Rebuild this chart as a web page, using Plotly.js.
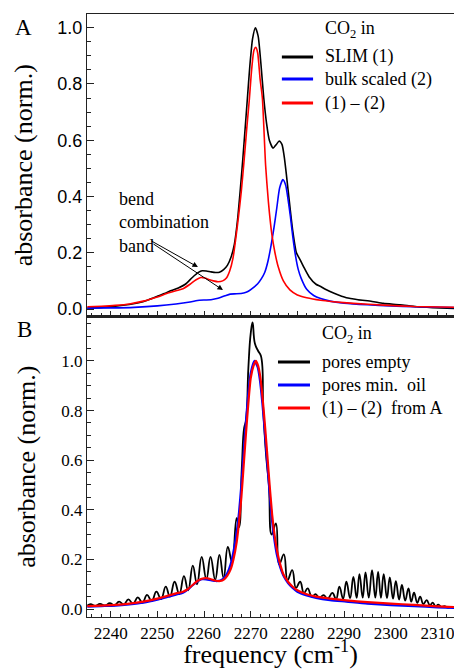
<!DOCTYPE html>
<html><head><meta charset="utf-8">
<script src="https://cdn.plot.ly/plotly-3.0.1.min.js"></script>
<style>body{margin:0;background:#fff}#plot{width:454px;height:669px}</style>
</head><body><div id="plot"></div>
<script>
// ---------- Panel A ----------
const xA_slim = [2235,2238,2241,2244,2246,2248,2250,2251.5,2253,2254.5,2256,2257.5,2258.8,2259.6,2260.5,2261.5,2262.5,2263.3,2264.2,2265,2265.8,2266.5,2267.2,2267.8,2268.3,2268.8,2269.3,2269.8,2270.4,2271.0,2271.6,2272.2,2272.8,2273.4,2274.0,2274.8,2275.5,2276.1,2276.7,2277.2,2277.7,2278.3,2279.0,2279.8,2280.6,2281.5,2282.5,2284,2285,2286,2288,2290.5,2293,2296,2298.4,2302,2305.6,2309,2314];
const yA_slim = [0.003,0.006,0.01,0.016,0.022,0.032,0.045,0.055,0.066,0.075,0.088,0.112,0.13,0.136,0.135,0.132,0.13,0.131,0.14,0.155,0.185,0.23,0.32,0.43,0.53,0.64,0.75,0.86,0.96,1.0,0.97,0.87,0.75,0.66,0.6,0.572,0.585,0.597,0.585,0.54,0.47,0.38,0.28,0.2,0.175,0.145,0.115,0.088,0.08,0.07,0.055,0.04,0.033,0.027,0.02,0.015,0.008,0.005,0.002];

const xA_bulk = [2235,2240,2245,2250,2254,2257,2259,2260.3,2261.5,2263,2264.5,2265.6,2267,2268.5,2269.5,2270.5,2271.5,2272.3,2273,2273.7,2274.3,2275,2275.6,2276.2,2276.9,2277.5,2278,2278.5,2279,2279.6,2280.2,2280.8,2282,2283.5,2285,2287,2290,2295,2300,2305,2314];
const yA_bulk = [0.003,0.004,0.006,0.011,0.018,0.025,0.031,0.032,0.033,0.038,0.047,0.053,0.054,0.057,0.063,0.075,0.09,0.108,0.13,0.17,0.22,0.29,0.36,0.43,0.46,0.44,0.39,0.33,0.26,0.19,0.14,0.11,0.07,0.048,0.037,0.028,0.021,0.015,0.011,0.008,0.005];

const xA_diff = [2235,2238,2241,2244,2247,2250,2252,2254,2255.5,2257,2258.3,2259.3,2260.2,2261,2262,2263,2264,2264.8,2265.5,2266.2,2266.8,2267.4,2268,2268.6,2269.2,2269.7,2270.2,2270.7,2271.1,2271.5,2272.0,2272.5,2273.2,2273.8,2274.5,2275.2,2275.9,2277,2278.4,2280,2282,2285,2287.7,2292,2298.4,2305,2314];
const yA_diff = [0.008,0.01,0.013,0.018,0.028,0.043,0.055,0.065,0.072,0.088,0.104,0.112,0.11,0.105,0.1,0.097,0.1,0.11,0.135,0.18,0.25,0.33,0.42,0.53,0.65,0.743,0.85,0.92,0.93,0.91,0.82,0.75,0.51,0.38,0.27,0.2,0.15,0.1,0.068,0.05,0.04,0.031,0.026,0.02,0.014,0.009,0.006];

// ---------- Panel B ----------
const xB_empty = [2235.0,2235.7,2236.7,2237.7,2238.8,2239.8,2240.8,2241.8,2242.8,2243.8,2244.8,2245.8,2246.8,2247.8,2248.8,2249.8,2250.8,2251.8,2252.7,2253.7,2254.7,2255.7,2256.6,2257.6,2258.5,2259.5,2260.5,2261.4,2262.4,2263.3,2264.2,2265.1,2266.0,2267.0,2267.5,2268.1,2268.6,2269.0,2269.5,2270.0,2270.4,2270.9,2271.6,2272.2,2272.7,2273.3,2273.9,2274.5,2275.4,2276.1,2277.1,2277.9,2278.9,2279.7,2280.6,2281.4,2282.2,2283.1,2283.9,2284.7,2285.6,2286.5,2287.5,2288.3,2289.0,2289.8,2290.5,2291.3,2292.0,2292.7,2293.3,2294.0,2294.6,2295.3,2296.0,2296.7,2297.3,2297.9,2298.5,2299.2,2299.8,2300.5,2301.1,2301.8,2302.4,2303.1,2303.8,2304.4,2305.0,2305.7,2306.3,2307.0,2307.7,2308.4,2309.0,2309.6,2310.2,2310.9,2311.5,2312.2,2313.0,2314.0];
const yB_empty = [0.014,0.02,0.013,0.021,0.014,0.024,0.015,0.03,0.018,0.039,0.021,0.047,0.026,0.057,0.032,0.07,0.04,0.09,0.05,0.11,0.06,0.133,0.075,0.175,0.1,0.21,0.12,0.21,0.118,0.218,0.125,0.251,0.19,0.366,0.33,0.57,0.73,0.76,0.97,1.11,1.155,1.07,1.04,1.02,0.8,0.62,0.5,0.3,0.345,0.18,0.22,0.117,0.157,0.085,0.11,0.065,0.083,0.05,0.06,0.045,0.056,0.042,0.065,0.04,0.09,0.042,0.11,0.044,0.13,0.045,0.141,0.046,0.148,0.046,0.157,0.046,0.15,0.045,0.141,0.044,0.128,0.042,0.113,0.038,0.097,0.034,0.083,0.03,0.066,0.025,0.05,0.02,0.036,0.015,0.026,0.011,0.018,0.008,0.012,0.006,0.008,0.005];

const xB_oil = [2235,2238,2241,2244,2247,2250,2252,2254,2255.5,2256.5,2257.5,2258.5,2259.5,2260.5,2261.5,2262.5,2263.5,2264.3,2265,2265.7,2266.3,2267,2267.5,2268,2268.5,2269,2269.5,2270,2270.8,2271.5,2272,2272.5,2273,2273.5,2274,2274.5,2275,2275.6,2276.3,2277,2278,2279,2280,2282,2284,2287,2290.5,2295,2300,2305,2310,2314];
const yB_oil = [0.01,0.012,0.014,0.019,0.026,0.038,0.048,0.058,0.066,0.078,0.095,0.11,0.12,0.12,0.116,0.113,0.115,0.125,0.145,0.18,0.23,0.31,0.39,0.5,0.63,0.76,0.87,0.95,1.0,0.975,0.92,0.83,0.72,0.6,0.48,0.37,0.29,0.22,0.17,0.135,0.105,0.085,0.07,0.055,0.045,0.036,0.03,0.022,0.016,0.012,0.007,0.004];

const xB_diffA = [2235,2238,2241,2244,2247,2250,2252,2254,2255.5,2256.5,2257.5,2258.5,2259.5,2260.5,2261.5,2262.5,2263.5,2264.3,2265,2265.7,2266.3,2267,2267.5,2268,2268.5,2269,2269.5,2270,2270.6,2271.1,2271.6,2272.1,2272.6,2273.1,2273.6,2274.1,2274.6,2275.1,2275.7,2276.4,2277,2278,2279,2280,2282,2284,2287,2290.5,2295,2300,2305,2310,2314];
const yB_diffA = [0.012,0.014,0.017,0.022,0.03,0.042,0.052,0.063,0.07,0.08,0.096,0.112,0.122,0.125,0.12,0.114,0.113,0.12,0.135,0.16,0.2,0.27,0.35,0.45,0.58,0.71,0.83,0.93,0.98,1.0,0.98,0.93,0.84,0.73,0.61,0.49,0.38,0.3,0.23,0.175,0.14,0.11,0.09,0.076,0.06,0.05,0.042,0.035,0.028,0.022,0.017,0.011,0.008];

// ---------- labels ----------
const legendA = ["SLIM (1)", "bulk scaled (2)", "(1) \u2013 (2)"];
const legendB = ["pores empty", "pores min.  oil", "(1) \u2013 (2)  from A"];
const colors = ["#000000", "#0000ff", "#ff0000"];
const xTickVals = [2240,2250,2260,2270,2280,2290,2300,2310];
const yTickVals = [0,0.2,0.4,0.6,0.8,1.0];

const serif = "Liberation Serif";
const sans = "Liberation Sans";

function tr(x, y, c, ya, w, name, sm) {
  return {x: x, y: y, type: 'scatter', mode: 'lines', name: name,
    line: {color: c, width: w, shape: 'spline', smoothing: sm},
    xaxis: 'x', yaxis: ya, showlegend: false, hoverinfo: 'skip'};
}
function tr2(x, y, c, w, name, sm) {
  const t = tr(x, y, c, 'y2', w, name, sm); t.xaxis = 'x2'; return t;
}

const data = [
  tr(xA_slim, yA_slim, colors[0], 'y', 1.6, legendA[0], 0.6),
  tr(xA_bulk, yA_bulk, colors[1], 'y', 1.6, legendA[1], 0.6),
  tr(xA_diff, yA_diff, colors[2], 'y', 1.6, legendA[2], 0.6),
  tr2(xB_empty, yB_empty, colors[0], 1.8, legendB[0], 1.3),
  tr2(xB_oil, yB_oil, colors[1], 2.2, legendB[1], 0.6),
  tr2(xB_diffA, yB_diffA, colors[2], 2.2, legendB[2], 0.6)
];

const dom = 0.4983;
const axLine = {showline: true, linecolor: '#222', linewidth: 1.2, zeroline: false, showgrid: false};
const xBase = Object.assign({}, axLine, {
  range: [2234.93, 2313.56], tickvals: xTickVals, ticks: 'inside', ticklen: 6, tickcolor: '#222',
  minor: {dtick: 2, tick0: 2234, ticks: 'inside', ticklen: 3.5, tickcolor: '#222'}, mirror: true,
  ticklabeloverflow: 'allow'
});

const annotations = [];
const shapes = [];
function legend(items, header, x0, x1, xt, yh, ys) {
  annotations.push({xref: 'paper', yref: 'paper', x: xt, y: yh, xanchor: 'left', yanchor: 'middle',
    text: header, showarrow: false, font: {family: serif, size: 18, color: '#000'}});
  items.forEach((t, i) => {
    shapes.push({type: 'line', xref: 'paper', yref: 'paper', x0: x0, x1: x1, y0: ys[i], y1: ys[i],
      line: {color: colors[i], width: 3}});
    annotations.push({xref: 'paper', yref: 'paper', x: xt, y: ys[i], xanchor: 'left', yanchor: 'middle',
      text: t, showarrow: false, font: {family: serif, size: 18, color: '#000'}});
  });
}
legend(legendA, "CO<sub>2</sub> in", 0.531, 0.616, 0.643, 0.9735, [0.9287, 0.8922, 0.8524]);
legend(legendB, "CO<sub>2</sub> in", 0.5204, 0.6076, 0.6349, 0.4677, [0.4229, 0.3847, 0.3466]);

annotations.push({xref: 'paper', yref: 'paper', x: -0.1717, y: 0.9784, text: 'A', showarrow: false,
  font: {family: serif, size: 23, color: '#000'}, xanchor: 'center', yanchor: 'middle'});
annotations.push({xref: 'paper', yref: 'paper', x: -0.169, y: 0.476, text: 'B', showarrow: false,
  font: {family: serif, size: 23, color: '#000'}, xanchor: 'center', yanchor: 'middle'});
annotations.push({xref: 'paper', yref: 'paper', x: 0.0817, y: 0.655, xanchor: 'left', yanchor: 'middle', align: 'left',
  text: 'bend<br>combination<br>band', showarrow: false, font: {family: serif, size: 18, color: '#000'}});
annotations.push({xref: 'x', yref: 'y', axref: 'x', ayref: 'y', x: 2258.7, y: 0.149, ax: 2248.4, ay: 0.245,
  text: '', showarrow: true, arrowhead: 2, arrowsize: 1.1, arrowwidth: 1, arrowcolor: '#000'});
annotations.push({xref: 'x', yref: 'y', axref: 'x', ayref: 'y', x: 2264.06, y: 0.0675, ax: 2248.85, ay: 0.2346,
  text: '', showarrow: true, arrowhead: 2, arrowsize: 1.1, arrowwidth: 1, arrowcolor: '#000'});

const layout = {
  width: 454, height: 669,
  margin: {l: 87, r: 0, t: 14, b: 52},
  paper_bgcolor: '#fff', plot_bgcolor: '#fff',
  showlegend: false,
  font: {family: serif, color: '#000'},
  xaxis: Object.assign({}, xBase, {anchor: 'y', showticklabels: false}),
  yaxis: Object.assign({}, axLine, {
    domain: [dom, 1], anchor: 'x', range: [-0.0267, 1.0487], tickvals: yTickVals, tickformat: '.1f',
    ticks: 'inside', ticklen: 7, tickcolor: '#222',
    minor: {dtick: 0.05, tick0: 0, ticks: 'inside', ticklen: 4, tickcolor: '#222'},
    tickfont: {family: sans, size: 18, color: '#000'},
    title: {text: 'absorbance (norm.)', font: {family: serif, size: 26, color: '#000'}, standoff: 17}
  }),
  xaxis2: Object.assign({}, xBase, {anchor: 'y2', showticklabels: true,
    tickfont: {family: serif, size: 17, color: '#000'},
    title: {text: 'frequency (cm<sup>-1</sup>)', font: {family: serif, size: 26, color: '#000'}, standoff: 6}
  }),
  yaxis2: Object.assign({}, axLine, {
    domain: [0, dom], anchor: 'x2', range: [-0.032, 1.179], tickvals: yTickVals, tickformat: '.1f',
    ticks: 'inside', ticklen: 7, tickcolor: '#222',
    minor: {dtick: 0.05, tick0: 0, ticks: 'inside', ticklen: 4, tickcolor: '#222'},
    tickfont: {family: serif, size: 17, color: '#000'},
    title: {text: 'absorbance (norm.)', font: {family: serif, size: 26, color: '#000'}, standoff: 18}
  }),
  annotations: annotations,
  shapes: shapes
};

Plotly.newPlot('plot', data, layout, {staticPlot: true, displayModeBar: false});
</script>
</body></html>
